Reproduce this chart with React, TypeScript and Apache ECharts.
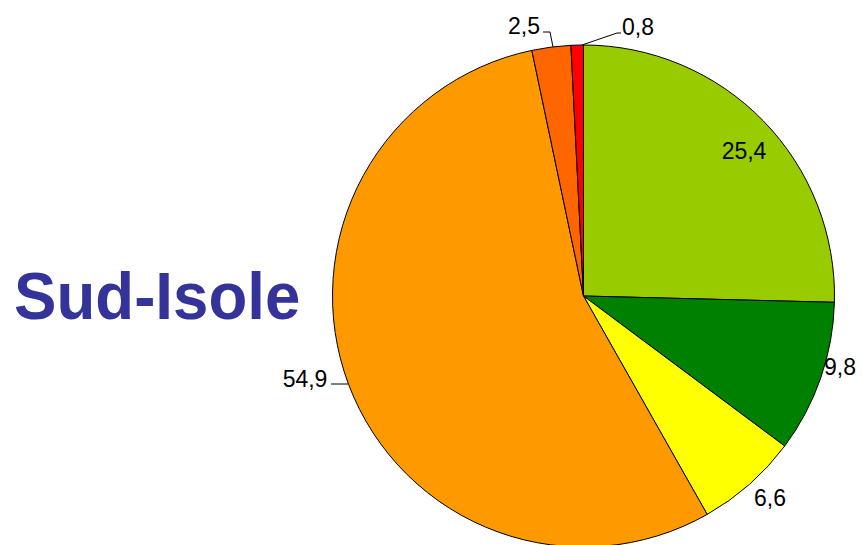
import React, { useEffect, useRef } from "react";
import * as echarts from "echarts";

const categories = ["A", "B", "C", "D", "E", "F"];
const values = [25.4, 9.8, 6.6, 54.9, 2.5, 0.8];
const colors = ["#99CC00", "#008000", "#FFFF00", "#FF9900", "#FF6600", "#FF0000"];
const title = "Sud-Isole";

// label layout (positions only)
const labelPos: [number, number][] = [
  [744, 151],
  [840, 367],
  [770, 498],
  [305, 379],
  [524, 26],
  [638, 27],
];
const labelLines: ([number, number][] | null)[] = [
  null,
  null,
  null,
  [[348, 384], [340, 384], [331, 384]],
  [[553, 47], [550, 32], [543, 32]],
  [[582, 45], [617, 33], [621, 33]],
];

export default function App() {
  const ref = useRef<HTMLDivElement>(null);
  useEffect(() => {
    if (!ref.current) return;
    const chart = echarts.init(ref.current, null, { renderer: "svg" });
    chart.setOption({
      animation: false,
      backgroundColor: "#ffffff",
      graphic: [
        {
          type: "text",
          x: 14,
          y: 262,
          scaleX: 0.95,
          style: {
            text: title,
            fontSize: 67,
            fontWeight: "bold",
            fontFamily: "Liberation Sans, Arial, sans-serif",
            fill: "#333399",
          },
        },
      ],
      series: [
        {
          type: "pie",
          center: [583.5, 296],
          radius: [0, 251],
          startAngle: 90,
          clockwise: true,
          avoidLabelOverlap: false,
          itemStyle: { borderColor: "#000000", borderWidth: 1 },
          label: {
            show: true,
            formatter: (p: any) => String(p.value).replace(".", ","),
            fontSize: 23,
            fontFamily: "Liberation Sans, Arial, sans-serif",
            color: "#000000",
          },
          labelLine: {
            show: true,
            lineStyle: { color: "#000000", width: 1 },
          },
          labelLayout: (params: any) => {
            const i = params.dataIndex;
            const res: any = {
              x: labelPos[i][0],
              y: labelPos[i][1],
              align: "center",
              verticalAlign: "middle",
            };
            if (labelLines[i]) res.labelLinePoints = labelLines[i];
            return res;
          },
          data: categories.map((c, i) => ({
            name: c,
            value: values[i],
            itemStyle: { color: colors[i] },
            labelLine: { show: labelLines[i] !== null },
          })),
        },
      ],
    });
    return () => chart.dispose();
  }, []);
  return (
    <div
      ref={ref}
      style={{ position: "fixed", left: 0, top: 0, width: 862, height: 545 }}
    />
  );
}
